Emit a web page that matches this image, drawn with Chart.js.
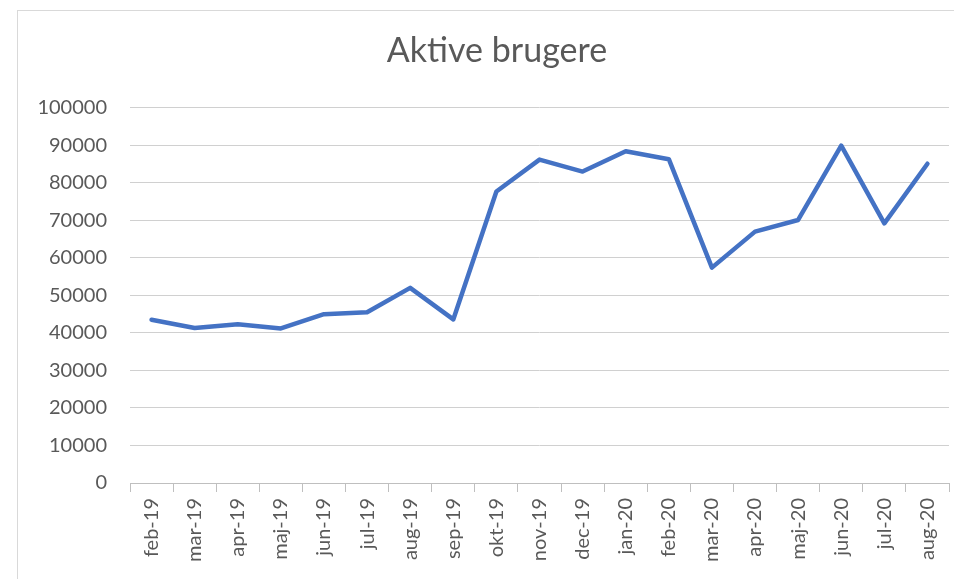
<!DOCTYPE html>
<html>
<head>
<meta charset="utf-8">
<script src="https://cdn.jsdelivr.net/npm/chart.js@4/dist/chart.umd.min.js"></script>
<style>
    html, body { margin: 0; padding: 0; background: #fff; }
    #wrap { position: relative; width: 954px; height: 579px; overflow: hidden; }
    #frame { position: absolute; left: 17px; top: 10px; width: 960px; height: 600px; border: 1px solid #d9d9d9; box-sizing: border-box; }
    #box { position: absolute; left: 0; top: 0; width: 994px; height: 579px; }
</style>
</head>
<body>
<div id="wrap">
    <div id="frame"></div>
    <div id="box"><canvas id="myChart"></canvas></div>
</div>
<script>
// maanedsdata
let months = ["feb-19", "mar-19", "apr-19", "maj-19", "jun-19", "jul-19", "aug-19", "sep-19", "okt-19", "nov-19",
              "dec-19", "jan-20", "feb-20", "mar-20", "apr-20", "maj-20", "jun-20", "jul-20", "aug-20"],
    activeUsers = [43500, 41300, 42300, 41200, 45000, 45500, 52000, 43600, 77700, 86200,
                   83000, 88400, 86300, 57400, 67000, 70100, 89900, 69200, 85100],
    yTicks = [0, 10000, 20000, 30000, 40000, 50000, 60000, 70000, 80000, 90000, 100000];

let grey = "#595959",
    font = "Lato, 'Liberation Sans', sans-serif";

let ctx = document.getElementById("myChart");

let myChart = new Chart(ctx, {
    type: "line",
    data: {
        labels: months,
        datasets: [{
            label: "Aktive brugere",
            data: activeUsers,
            borderColor: "#4472C4",
            backgroundColor: "#4472C4",
            borderWidth: 4.5,
            borderJoinStyle: "round",
            borderCapStyle: "round",
            pointRadius: 0,
            tension: 0,
            fill: false
        }]
    },
    options: {
        responsive: true,
        maintainAspectRatio: false,
        animation: false,
        layout: { padding: { top: 10, right: 0, left: 0, bottom: 0 } },
        plugins: {
            legend: { display: false },
            tooltip: { enabled: false },
            title: {
                display: true,
                text: "Aktive brugere",
                color: grey,
                font: { family: font, size: 34, weight: "normal", lineHeight: 1.2 },
                padding: { top: 21, bottom: 36 }
            }
        },
        scales: {
            x: {
                offset: true,
                grid: {
                    offset: true,
                    drawOnChartArea: false,
                    drawTicks: true,
                    tickLength: 9,
                    color: "#bfbfbf"
                },
                border: { color: "#bfbfbf", width: 1 },
                ticks: {
                    color: grey,
                    font: { family: font, size: 20 },
                    minRotation: 90,
                    maxRotation: 90,
                    autoSkip: false,
                    padding: 6
                },
                afterFit: function (scale) { scale.height = 96; }
            },
            y: {
                min: 0,
                max: 100000,
                afterBuildTicks: function (scale) {
                    scale.ticks = yTicks.map(function (v) { return { value: v }; });
                },
                grid: {
                    color: "#d0d0d0",
                    drawTicks: false
                },
                border: { display: false },
                ticks: {
                    color: grey,
                    font: { family: font, size: 20 },
                    padding: 23,
                    callback: function (v) { return String(v); }
                },
                afterFit: function (scale) { scale.width = 130; }
            },
            // asse vuoto a destra: sposta il titolo al centro come nell'originale
            yRight: {
                position: "right",
                grid: { display: false },
                border: { display: false },
                ticks: { display: false },
                afterFit: function (scale) { scale.width = 45; }
            }
        }
    }
});
</script>
</body>
</html>
